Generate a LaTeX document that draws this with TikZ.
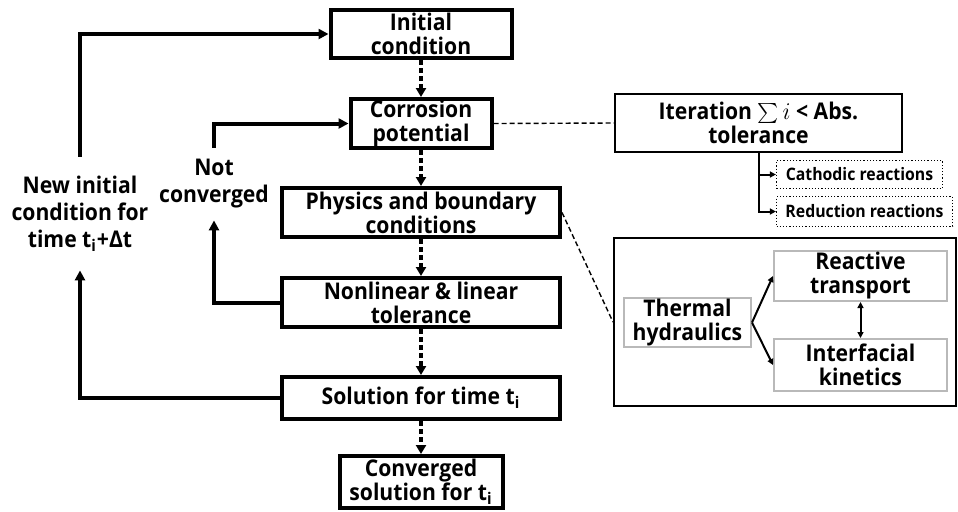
\documentclass[tikz,border=0pt]{standalone}
\usepackage{fontspec}
\setmainfont{Open Sans}[FakeStretch=0.92]
\usepackage{tikz}
\usetikzlibrary{arrows.meta}

\begin{document}
\begin{tikzpicture}[x=0.5pt,y=-0.5pt,
    every node/.style={font=\bfseries\fontsize{11.5}{12}\selectfont,align=center,inner sep=0pt},
    mainbox/.style={draw,line width=2pt},
    thinbox/.style={draw,line width=1pt},
    graybox/.style={draw=gray!55,line width=1pt},
    dotbox/.style={draw,densely dotted,line width=0.6pt,font=\bfseries\fontsize{8.6}{9}\selectfont},
    sidetext/.style={font=\bfseries\fontsize{11.5}{13.5}\selectfont},
    flow/.style={line width=2pt,dash pattern=on 2.5pt off 1.5pt,-{Triangle[length=4.5pt,width=5pt]}},
    backarrow/.style={line width=2pt,-{Triangle[length=5pt,width=5pt]}},
    thinarrow/.style={line width=1pt,-{Triangle[length=3pt,width=3pt]}},
    linkline/.style={line width=0.7pt,dash pattern=on 2.5pt off 1.5pt}]
    \useasboundingbox (0,0) rectangle (958,511);

    \node[mainbox,minimum width=90.5pt,minimum height=24pt] (init) at (421,34) {Initial\\condition};
    \node[mainbox,minimum width=70.5pt,minimum height=24.5pt] (corr) at (421,123.5) {Corrosion\\potential};
    \node[mainbox,minimum width=139pt,minimum height=24.5pt] (phys) at (421,212.5) {Physics and boundary\\conditions};
    \node[mainbox,minimum width=139pt,minimum height=24.5pt] (nonlin) at (421,302.5) {Nonlinear \& linear\\tolerance};
    \node[mainbox,minimum width=139pt,minimum height=21pt] (sol) at (421,398) {Solution for time t\textsubscript{i}};
    \node[mainbox,minimum width=81.5pt,minimum height=26pt] (conv) at (421,482) {Converged\\solution for t\textsubscript{i}};

    \node[sidetext,minimum height=56.5pt] (newic) at (80,213.5) {New initial\\condition for\\time t\textsubscript{i}+Δt};
    \node[sidetext,minimum height=36pt] (notconv) at (214,184) {Not\\converged};

    \draw[flow] (init) -- (corr);
    \draw[flow] (corr) -- (phys);
    \draw[flow] (phys) -- (nonlin);
    \draw[flow] (nonlin) -- (sol);
    \draw[flow] (sol) -- (conv);

    \draw[backarrow] (sol.west) -| (newic.south);
    \draw[backarrow] (newic.north) |- (init.west);
    \draw[backarrow] (nonlin.west) -| (notconv.south);
    \draw[backarrow] (notconv.north) |- (corr.west);

    \node[thinbox,minimum width=143.5pt,minimum height=29pt] (iter) at (758.5,123) {Iteration $\sum i$ < Abs.\\tolerance};
    \node[dotbox,minimum width=83pt,minimum height=14pt] (cath) at (859.5,174.5) {Cathodic reactions};
    \node[dotbox,minimum width=88pt,minimum height=15pt] (red) at (864.5,211.5) {Reduction reactions};
    \draw[linkline] (corr.east) -- (iter.west);
    \draw[thinarrow] (iter.south) |- (cath.west);
    \draw[thinarrow] (iter.south) |- (red.west);

    \node[thinbox,minimum width=171pt,minimum height=84pt] (cont) at (785,322) {};
    \node[graybox,minimum width=63.5pt,minimum height=24.5pt] (therm) at (687.5,322.5) {Thermal\\hydraulics};
    \node[graybox,minimum width=86.5pt,minimum height=25pt] (react) at (860.5,276) {Reactive\\transport};
    \node[graybox,minimum width=86.5pt,minimum height=26pt] (interf) at (860.5,365) {Interfacial\\kinetics};
    \draw[linkline] (phys.east) -- (cont.west);
    \draw[thinarrow] (therm.east) -- (react.west);
    \draw[thinarrow] (therm.east) -- (interf.west);
    \draw[thinarrow,{Triangle[length=3pt,width=3pt]}-{Triangle[length=3pt,width=3pt]}] (react) -- (interf);
\end{tikzpicture}
\end{document}
